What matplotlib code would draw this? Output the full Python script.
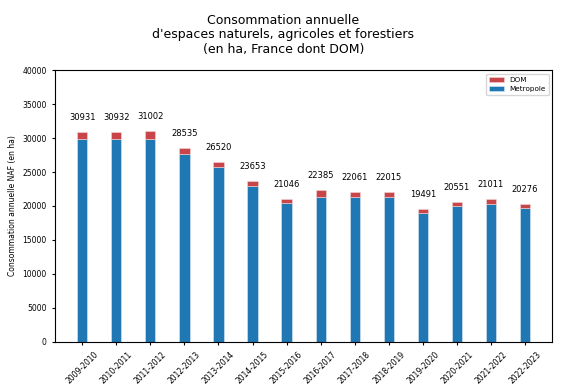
import matplotlib
matplotlib.use('Agg')
import matplotlib.pyplot as plt
import numpy as np

periods = ['2009-2010', '2010-2011', '2011-2012', '2012-2013', '2013-2014',
           '2014-2015', '2015-2016', '2016-2017', '2017-2018', '2018-2019',
           '2019-2020', '2020-2021', '2021-2022', '2022-2023']
totals = [30931, 30932, 31002, 28535, 26520, 23653, 21046, 22385, 22061,
          22015, 19491, 20551, 21011, 20276]
dom = [1000, 1050, 1100, 900, 800, 650, 600, 1000, 700, 650, 550, 550, 700, 500]
metropole = [t - d for t, d in zip(totals, dom)]

fig = plt.figure(figsize=(5.67, 3.92), dpi=100)
ax = fig.add_axes([0.097, 0.128, 0.877, 0.693])

x = np.arange(len(periods))
w = 0.3
ax.bar(x, metropole, w, color='#1f77b4', edgecolor='#dce8f3', linewidth=0.4,
       label='Metropole')
ax.bar(x, dom, w, bottom=metropole, color='#c8454a', edgecolor='#f2d8d8',
       linewidth=0.4, label='DOM')

for xi, t in zip(x, totals):
    ax.text(xi, t + 1500, str(t), ha='center', va='bottom', fontsize=6)

ax.set_ylim(0, 40000)
ax.set_xlim(-0.8, len(periods) - 0.2)
ax.set_xticks(x)
ax.set_xticklabels(periods, rotation=45, fontsize=5.5)
ax.tick_params(axis='y', labelsize=5.5, length=2.5)
ax.tick_params(axis='x', length=2.5)
ax.set_ylabel('Consommation annuelle NAF (en ha)', fontsize=5.5)

handles, labels = ax.get_legend_handles_labels()
ax.legend(handles[::-1], labels[::-1], loc='upper right', fontsize=5.2)

fig.suptitle("Consommation annuelle\nd'espaces naturels, agricoles et forestiers\n(en ha, France dont DOM)",
             fontsize=9, y=0.965, linespacing=1.15)

fig.savefig('out.png', dpi=100)
